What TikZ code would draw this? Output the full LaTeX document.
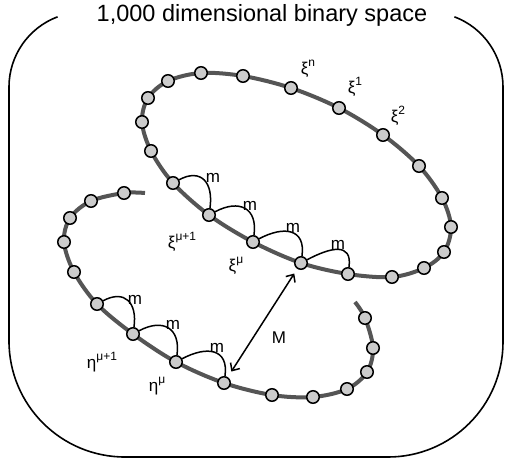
\documentclass[tikz,border=0pt]{standalone}
\usepackage{fontspec}
\setmainfont{Liberation Sans}
\usetikzlibrary{arrows.meta}
\newcommand\mysup[1]{\raisebox{0.45em}{\fontsize{12pt}{12pt}\selectfont #1}}
\definecolor{curvegray}{RGB}{85,85,85}
\definecolor{dotgray}{RGB}{204,204,204}
\tikzset{
  frame/.style={line width=1.6pt, black},
  curve/.style={line width=4pt, curvegray},
  dot/.style={circle, draw=black, fill=dotgray, line width=1.5pt, minimum size=12.5pt, inner sep=0pt},
  marc/.style={line width=1.5pt, black},
  mto/.style={out=28,in=82,looseness=1.55},
  lbl/.style={font=\fontsize{17pt}{17pt}\selectfont, inner sep=0pt},
  darrow/.style={line width=1.5pt, black, {Straight Barb[length=6pt,width=11pt]}-{Straight Barb[length=6pt,width=11pt]}, shorten <=5.5pt, shorten >=6.6pt}
}
\begin{document}
\begin{tikzpicture}[x=1pt,y=1pt]
\useasboundingbox (0,0) rectangle (505,-464);
% frame
\draw[frame] (57.6,-16.8) arc[start angle=110.6,end angle=180,radius=75]
  -- (9,-341) arc[start angle=180,end angle=270,radius=116]
  -- (388,-457) arc[start angle=270,end angle=360,radius=115]
  -- (503,-87) arc[start angle=0,end angle=69.4,radius=75];
\node[font=\fontsize{23.5pt}{23.5pt}\selectfont, inner sep=0pt] (title) at (262,-15) {1,000 dimensional binary space};
% coordinates upper loop
\coordinate (cu1) at (151,-151);
\coordinate (cu2) at (142,-122);
\coordinate (cu3) at (148,-98);
\coordinate (cu4) at (168,-81);
\coordinate (cu5) at (201,-73);
\coordinate (cu6) at (243,-76);
\coordinate (cu7) at (291,-88);
\coordinate (cu8) at (339,-108);
\coordinate (cu9) at (383,-135);
\coordinate (cu10) at (419,-166);
\coordinate (cu11) at (442,-198);
\coordinate (cu12) at (451,-227);
\coordinate (cu13) at (444,-252);
\coordinate (cu14) at (424,-268);
\coordinate (cu15) at (392,-277);
\coordinate (cu16) at (348,-274);
\coordinate (cu17) at (301,-263);
\coordinate (cu18) at (253,-242);
\coordinate (cu19) at (209,-215);
\coordinate (cu20) at (173,-183);
% coordinates lower curve
\coordinate (lstart) at (145,-193);
\coordinate (cl1) at (124,-193);
\coordinate (cl2) at (91,-201);
\coordinate (cl3) at (70,-218);
\coordinate (cl4) at (64,-242);
\coordinate (cl5) at (74,-272);
\coordinate (cl6) at (97,-304);
\coordinate (cl7) at (133,-334);
\coordinate (cl8) at (176,-362);
\coordinate (cl9) at (224,-383);
\coordinate (cl10) at (272,-395);
\coordinate (cl11) at (313,-397);
\coordinate (cl12) at (347,-389);
\coordinate (cl13) at (367,-372);
\coordinate (cl14) at (373,-348);
\coordinate (cl15) at (365,-318);
\coordinate (lend) at (355,-302);
% curves
\draw[curve] plot[smooth cycle, tension=0.55] coordinates {(cu1) (cu2) (cu3) (cu4) (cu5) (cu6) (cu7) (cu8) (cu9) (cu10) (cu11) (cu12) (cu13) (cu14) (cu15) (cu16) (cu17) (cu18) (cu19) (cu20)};
\draw[curve] plot[smooth, tension=0.55] coordinates {(lstart) (cl1) (cl2) (cl3) (cl4) (cl5) (cl6) (cl7) (cl8) (cl9) (cl10) (cl11) (cl12) (cl13) (cl14) (cl15) (lend)};
% dots
\foreach \i in {1,...,20} { \node[dot] (u\i) at (cu\i) {}; }
\foreach \i in {1,...,15} { \node[dot] (l\i) at (cl\i) {}; }
% m arcs
\draw[marc] (u20) to[mto] (u19);
\draw[marc] (u19) to[mto] (u18);
\draw[marc] (u18) to[mto] (u17);
\draw[marc] (u17) to[mto] (u16);
\draw[marc] (l6) to[mto] (l7);
\draw[marc] (l7) to[mto] (l8);
\draw[marc] (l8) to[mto] (l9);
\node[lbl] (m1) at (213,-178) {m};
\node[lbl] (m2) at (250,-206) {m};
\node[lbl] (m3) at (293,-228) {m};
\node[lbl] (m4) at (338,-245) {m};
\node[lbl] (m5) at (135,-300) {m};
\node[lbl] (m6) at (173,-325) {m};
\node[lbl] (m7) at (217,-348) {m};
% greek labels
\node[lbl] (xin) at (308,-69) {ξ\mysup{n}};
\node[lbl] (xi1) at (355,-87) {ξ\mysup{1}};
\node[lbl] (xi2) at (398,-116) {ξ\mysup{2}};
\node[lbl] (ximup) at (182,-242) {ξ\mysup{μ+1}};
\node[lbl] (ximu) at (236,-266) {ξ\mysup{μ}};
\node[lbl] (etamup) at (102,-362) {η\mysup{μ+1}};
\node[lbl] (etamu) at (157,-386) {η\mysup{μ}};
% distance arrow
\draw[darrow] (u17) -- (l9);
\node[lbl] (Mlbl) at (279,-338) {M};
\end{tikzpicture}
\end{document}
